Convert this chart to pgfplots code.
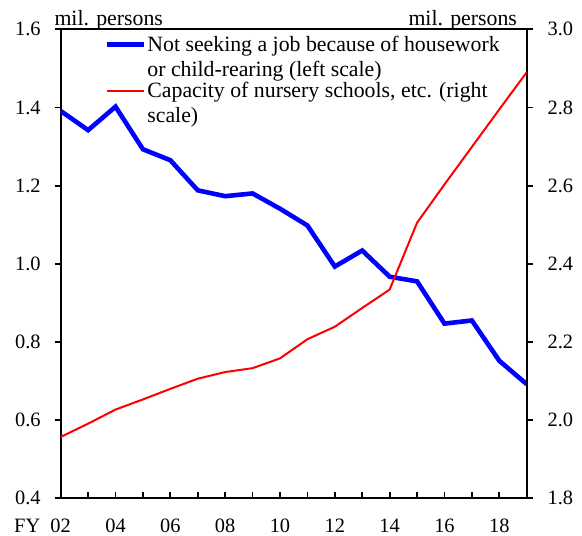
\documentclass[border=0pt]{standalone}
\usepackage{fontspec}
\setmainfont{Liberation Serif}
\usepackage{pgfplots}
\pgfplotsset{compat=1.18}
\pgfplotstableread{
x y
2 1.391
3 1.342
4 1.402
5 1.293
6 1.265
7 1.188
8 1.173
9 1.180
10 1.141
11 1.098
12 0.993
13 1.034
14 0.967
15 0.955
16 0.847
17 0.855
18 0.752
19 0.692
}\blueT
\pgfplotstableread{
x y
2 1.957
3 1.991
4 2.027
5 2.053
6 2.080
7 2.106
8 2.123
9 2.133
10 2.158
11 2.207
12 2.239
13 2.287
14 2.334
15 2.505
16 2.603
17 2.699
18 2.795
19 2.890
}\redT
\begin{document}
\fontsize{10.9}{12}\selectfont
\begin{tikzpicture}
\pgfplotsset{
  every axis/.append style={
    scale only axis, width=233pt, height=234.5pt,
    xmin=2, xmax=19,
    axis line style={line width=0.9pt},
    every tick/.style={black, line width=0.9pt},
    major tick length=3pt,
    tick label style={font=\rmfamily\fontsize{10.2}{12}\selectfont},
    /pgf/number format/assume math mode=true,
  }
}
\begin{axis}[
  name=ax,
  ymin=0.4, ymax=1.6,
  ytick={0.4,0.6,...,1.6},
  xtick={2,...,19},
  xticklabels={{\llap{FY\ \ }02},,04,,06,,08,,10,,12,,14,,16,,18,},
  xtick pos=bottom, ytick pos=left,
  xtick align=inside, ytick align=outside,
  yticklabel style={/pgf/number format/fixed, /pgf/number format/fixed zerofill, /pgf/number format/precision=1, xshift=-3.2pt},
  xticklabel style={yshift=-6.5pt},
]
\addplot[blue, line width=2.3pt] table[x=x,y=y] {\blueT};
\end{axis}
\begin{axis}[
  ymin=1.8, ymax=3.0,
  ytick={1.8,2.0,...,3.0},
  axis y line*=right, axis x line=none,
  ytick align=outside,
  yticklabel style={/pgf/number format/fixed, /pgf/number format/fixed zerofill, /pgf/number format/precision=1, xshift=3.6pt},
  legend style={draw=none, fill=none, at={(0.0942,0.991)}, anchor=north west,
    inner sep=0pt, row sep=13pt, column sep=0.4pt,
    nodes={inner sep=0pt}, cells={anchor=base west},
    font=\fontsize{10.9}{12.4}\selectfont},
  legend image code/.code={\draw[#1] (0pt,3.5pt) -- (18.5pt,3.5pt);},
]
\addlegendimage{blue, line width=2.3pt}
\addlegendentry{{\begin{tabular}[t]{@{}l@{}}Not seeking a job because of housework\\or child-rearing (left scale)\end{tabular}}}
\addplot[red, line width=1pt] table[x=x,y=y] {\redT};
\addlegendentry{{\begin{tabular}[t]{@{}l@{}}Capacity of nursery schools, etc. (right\\scale)\end{tabular}}}
\end{axis}
\node[anchor=base west, inner sep=0pt, xshift=-3.3pt, yshift=1.8pt] at (ax.north west) {mil. persons};
\node[anchor=base east, inner sep=0pt, xshift=-4.7pt, yshift=1.8pt] at (ax.north east) {mil. persons};
\pgfresetboundingbox
\path[use as bounding box] ([xshift=-30.35pt,yshift=-18.35pt]ax.south west) rectangle ([xshift=27.65pt,yshift=14.65pt]ax.north east);
\end{tikzpicture}
\end{document}
